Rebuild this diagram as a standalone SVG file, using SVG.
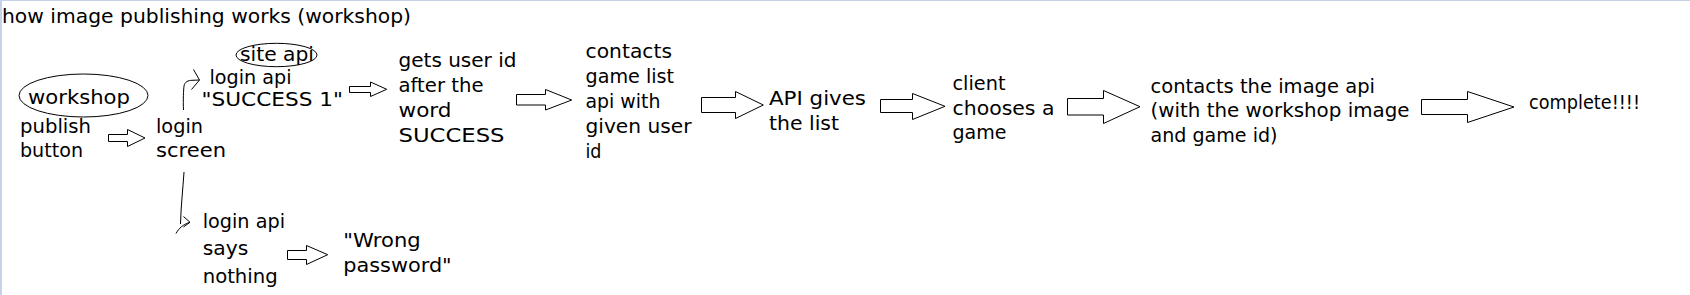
<svg xmlns="http://www.w3.org/2000/svg" width="1690" height="295" viewBox="0 0 1690 295">
<style>
  text { font-family: "DejaVu Sans", "Liberation Sans", sans-serif; font-size: 19px; fill: #000; }
  .title { font-size: 20px; }
  .done { font-size: 19px; }
  .oval { fill: none; stroke: #000; stroke-width: 1; }
  .block { fill: #fff; stroke: #000; stroke-width: 1; stroke-linejoin: miter; }
  .thin { fill: none; stroke: #000; stroke-width: 1; }
  .frame { stroke: #c6d3e6; }
</style>
<rect x="0" y="0" width="1690" height="295" fill="#fff"/>
<line class="frame" x1="0" y1="0.5" x2="1690" y2="0.5" stroke-width="1"/>
<line class="frame" x1="1" y1="0" x2="1" y2="295" stroke-width="2"/>

<g id="title">
  <text class="title" x="2" y="23" textLength="409" lengthAdjust="spacingAndGlyphs">how image publishing works (workshop)</text>
</g>

<g id="workshop">
  <ellipse class="oval" cx="83.5" cy="95.5" rx="64.5" ry="21.5"/>
  <text x="28" y="104" textLength="102" lengthAdjust="spacingAndGlyphs">workshop</text>
  <text x="20" y="132.5" textLength="71" lengthAdjust="spacingAndGlyphs">publish</text>
  <text x="20" y="157" textLength="63" lengthAdjust="spacingAndGlyphs">button</text>
</g>

<g id="login-screen">
  <text x="156" y="132.5" textLength="47" lengthAdjust="spacingAndGlyphs">login</text>
  <text x="156" y="157" textLength="70" lengthAdjust="spacingAndGlyphs">screen</text>
</g>

<g id="login-success">
  <ellipse class="oval" cx="276.5" cy="55" rx="40.5" ry="11.7"/>
  <text x="240" y="60.5" textLength="74" lengthAdjust="spacingAndGlyphs">site api</text>
  <text x="209.5" y="84" textLength="82" lengthAdjust="spacingAndGlyphs">login api</text>
  <text x="201.5" y="106" textLength="141.5" lengthAdjust="spacingAndGlyphs">"SUCCESS 1"</text>
</g>

<g id="get-user-id">
  <text x="398.5" y="66.5" textLength="118" lengthAdjust="spacingAndGlyphs">gets user id</text>
  <text x="398.5" y="91.5" textLength="85" lengthAdjust="spacingAndGlyphs">after the</text>
  <text x="398.5" y="116.5" textLength="53" lengthAdjust="spacingAndGlyphs">word</text>
  <text x="398.5" y="141.5" textLength="106" lengthAdjust="spacingAndGlyphs">SUCCESS</text>
</g>

<g id="game-list-api">
  <text x="585.5" y="58.3" textLength="86.5" lengthAdjust="spacingAndGlyphs">contacts</text>
  <text x="585.5" y="83.3" textLength="88.5" lengthAdjust="spacingAndGlyphs">game list</text>
  <text x="585.5" y="108.3" textLength="75" lengthAdjust="spacingAndGlyphs">api with</text>
  <text x="585.5" y="133.3" textLength="106" lengthAdjust="spacingAndGlyphs">given user</text>
  <text x="585.5" y="158.3" textLength="16" lengthAdjust="spacingAndGlyphs">id</text>
</g>

<g id="api-gives-list">
  <text x="769" y="105" textLength="97" lengthAdjust="spacingAndGlyphs">API gives</text>
  <text x="769" y="130" textLength="70" lengthAdjust="spacingAndGlyphs">the list</text>
</g>

<g id="client-chooses">
  <text x="952.5" y="90" textLength="53" lengthAdjust="spacingAndGlyphs">client</text>
  <text x="952.5" y="115" textLength="102" lengthAdjust="spacingAndGlyphs">chooses a</text>
  <text x="952.5" y="139.3" textLength="54" lengthAdjust="spacingAndGlyphs">game</text>
</g>

<g id="image-api">
  <text x="1150.5" y="92.7" textLength="224.5" lengthAdjust="spacingAndGlyphs">contacts the image api</text>
  <text x="1150.5" y="117.3" textLength="259" lengthAdjust="spacingAndGlyphs">(with the workshop image</text>
  <text x="1150.5" y="141.7" textLength="127" lengthAdjust="spacingAndGlyphs">and game id)</text>
</g>

<g id="complete">
  <text class="done" x="1529" y="109.3" textLength="111" lengthAdjust="spacingAndGlyphs">complete!!!!</text>
</g>

<g id="login-nothing">
  <text x="202.7" y="228.3" textLength="82.3" lengthAdjust="spacingAndGlyphs">login api</text>
  <text x="202.7" y="255" textLength="45.6" lengthAdjust="spacingAndGlyphs">says</text>
  <text x="202.7" y="282.7" textLength="75" lengthAdjust="spacingAndGlyphs">nothing</text>
</g>

<g id="wrong-password">
  <text x="343.3" y="246.7" textLength="77.4" lengthAdjust="spacingAndGlyphs">"Wrong</text>
  <text x="343.3" y="271.7" textLength="108.4" lengthAdjust="spacingAndGlyphs">password"</text>
</g>

<g id="connectors">
  <!-- block arrows -->
  <polygon class="block" points="108.5,134.5 127.5,134.5 127.5,129.5 145,138 127.5,146.5 127.5,141.5 108.5,141.5"/>
  <polygon class="block" points="349.5,86.5 370.5,86.5 370.5,82 386.7,89.3 370.5,96.5 370.5,92.5 349.5,92.5"/>
  <polygon class="block" points="516.5,94.5 545.5,94.5 545.5,89.5 571.7,100 545.5,110 545.5,105 516.5,105"/>
  <polygon class="block" points="701.5,97.5 735.5,97.5 735.5,91.5 763.3,105 735.5,118.5 735.5,112.5 701.5,112.5"/>
  <polygon class="block" points="880.5,99.5 912.5,99.5 912.5,93.5 945,106.3 912.5,119.5 912.5,112.5 880.5,112.5"/>
  <polygon class="block" points="1067.5,98.5 1103.5,98.5 1103.5,90.5 1140,106.7 1103.5,123.5 1103.5,115 1067.5,115"/>
  <polygon class="block" points="1421.5,99.5 1467.5,99.5 1467.5,91.5 1514,107 1467.5,122.5 1467.5,114.5 1421.5,114.5"/>
  <polygon class="block" points="287.5,250.5 306.5,250.5 306.5,245.5 327.7,254.7 306.5,264.5 306.5,259.5 287.5,259.5"/>
  <!-- hand-drawn arrows from login screen -->
  <path class="thin" d="M183.5,110 C183,100 183.5,90 184,86 C185,81.5 188,80.5 192,80.3 L199.5,80"/>
  <path class="thin" d="M193.5,69.5 L199.5,80 L191.5,89.5"/>
  <path class="thin" d="M184,172 C183,188 181,205 180.5,224"/>
  <path class="thin" d="M176,233.5 C179,228 183,224.5 190,222.3"/>
  <path class="thin" d="M183.5,216.5 L190,222.3 L183.5,227"/>
</g>
</svg>
